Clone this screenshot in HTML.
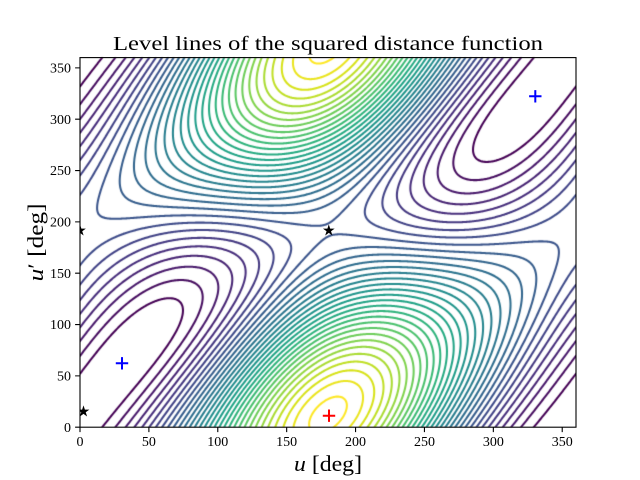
<!DOCTYPE html>
<html><head><meta charset="utf-8"><style>
html,body{margin:0;padding:0;background:#fff;}
#w{position:relative;width:640px;height:480px;overflow:hidden;background:#fff;}
canvas,svg{position:absolute;left:0;top:0;}
</style></head><body><div id="w">
<canvas id="c" width="640" height="480"></canvas>
<svg width="640" height="480" viewBox="0 0 640 480" xmlns="http://www.w3.org/2000/svg">
<defs><clipPath id="ax"><rect x="80" y="57.6" width="496" height="369.6"/></clipPath></defs>
<g clip-path="url(#ax)">
<g stroke="#0000ff" stroke-width="2" fill="none">
<path d="M115.8 363.3H128.2M122 357.1V369.5"/>
<path d="M529.1 96.3H541.5M535.3 90.1V102.5"/>
</g>
<path d="M322.8 415.7H335.2M329 409.5V421.9" stroke="#ff0000" stroke-width="2" fill="none"/>
<g fill="#000">
<polygon transform="translate(83.5,411.5) scale(1.1)" points="0,-5.6 1.258,-1.731 5.326,-1.73 2.035,0.661 3.292,4.531 0,2.14 -3.292,4.531 -2.035,0.661 -5.326,-1.73 -1.258,-1.731"/>
<polygon transform="translate(80,230.5) scale(1.1)" points="0,-5.6 1.258,-1.731 5.326,-1.73 2.035,0.661 3.292,4.531 0,2.14 -3.292,4.531 -2.035,0.661 -5.326,-1.73 -1.258,-1.731"/>
<polygon transform="translate(328.8,230.5) scale(1.1)" points="0,-5.6 1.258,-1.731 5.326,-1.73 2.035,0.661 3.292,4.531 0,2.14 -3.292,4.531 -2.035,0.661 -5.326,-1.73 -1.258,-1.731"/>
</g>
</g>
<rect x="80" y="57.6" width="496" height="369.6" fill="none" stroke="#000" stroke-width="1.1"/>
<g stroke="#000" stroke-width="1.1">
<path d="M80 427.2V432.1M148.89 427.2V432.1M217.78 427.2V432.1M286.67 427.2V432.1M355.56 427.2V432.1M424.44 427.2V432.1M493.33 427.2V432.1M562.22 427.2V432.1"/>
<path d="M75.1 427.2H80M75.1 375.87H80M75.1 324.53H80M75.1 273.2H80M75.1 221.87H80M75.1 170.53H80M75.1 119.2H80M75.1 67.87H80"/>
</g>
<g font-family="Liberation Serif, DejaVu Serif, serif" font-size="14" fill="#000" text-anchor="middle">
<text x="80" y="446">0</text>
<text x="148.89" y="446">50</text>
<text x="217.78" y="446">100</text>
<text x="286.67" y="446">150</text>
<text x="355.56" y="446">200</text>
<text x="424.44" y="446">250</text>
<text x="493.33" y="446">300</text>
<text x="562.22" y="446">350</text>
</g>
<g font-family="Liberation Serif, DejaVu Serif, serif" font-size="14" fill="#000" text-anchor="end">
<text x="71" y="431.8">0</text>
<text x="71" y="380.5">50</text>
<text x="71" y="329.1">100</text>
<text x="71" y="277.8">150</text>
<text x="71" y="226.5">200</text>
<text x="71" y="175.1">250</text>
<text x="71" y="123.8">300</text>
<text x="71" y="72.5">350</text>
</g>
<text x="328" y="50" font-family="Liberation Serif, DejaVu Serif, serif" font-size="20" text-anchor="middle" textLength="430" lengthAdjust="spacingAndGlyphs">Level lines of the squared distance function</text>
<text x="328" y="471" font-family="Liberation Serif, DejaVu Serif, serif" font-size="22" text-anchor="middle" textLength="68" lengthAdjust="spacingAndGlyphs"><tspan font-style="italic">u</tspan> [deg]</text>
<text transform="translate(43,242.4) rotate(-90)" x="0" y="0" font-family="Liberation Serif, DejaVu Serif, serif" font-size="22" text-anchor="middle" textLength="78" lengthAdjust="spacingAndGlyphs"><tspan font-style="italic">u</tspan>′ [deg]</text>
</svg></div>
<script>
(function(){
var cv=document.getElementById('c'),ctx=cv.getContext('2d');
var X0=80,X1=576,YB=427.2,YT=57.6,sx=(X1-X0)/360,sy=(YB-YT)/360,D=Math.PI/180;
var e=0.455,b=Math.sqrt(1-e*e);
var u0=30.5*D,v0=(62.2-192)*D;
var K=Math.sin(u0)*Math.cos(v0)/((Math.cos(u0)-e)*Math.sin(v0));
var bR=e*Math.sin(u0)*(1-e*Math.cos(u0))/(K*Math.sin(u0)*Math.cos(v0)-Math.cos(u0)*Math.sin(v0));
var R=bR/b,c=K*bR;
function f(u,w){var v=(w-192)*D;u=u*D;var t=1-e*Math.cos(u);return t*t+R*R+2*c*(Math.cos(u)-e)*Math.cos(v)+2*bR*Math.sin(u)*Math.sin(v);}
var N=480,h=360/N,M=N+1,G=new Float64Array(M*M),zmax=-1e9;
for(var i=0;i<M;i++)for(var j=0;j<M;j++){var z=f(i*h,j*h);G[i*M+j]=z;if(z>zmax)zmax=z;}
var L1=0.158,st=0.1116,lev=[];for(var L=L1;L<zmax;L+=st)lev.push(L);
var vir=[[68,1,84],[72,24,106],[71,45,123],[66,64,134],[59,82,139],[51,99,141],[44,114,142],[38,130,142],[33,145,140],[31,160,136],[40,174,128],[63,188,115],[94,201,98],[132,212,75],[173,220,48],[216,226,25],[253,231,37]];
function col(t){t=Math.max(0,Math.min(1,t))*16;var k=Math.min(15,Math.floor(t)),r=t-k,A=vir[k],B=vir[k+1];
return 'rgb('+Math.round(A[0]+(B[0]-A[0])*r)+','+Math.round(A[1]+(B[1]-A[1])*r)+','+Math.round(A[2]+(B[2]-A[2])*r)+')';}
var a,bb,cc,d,uu,ww,LL;
function ep(n){var t,x,y;
 if(n===0){t=(LL-a)/(bb-a);x=uu+t*h;y=ww;}
 else if(n===1){t=(LL-bb)/(cc-bb);x=uu+h;y=ww+t*h;}
 else if(n===2){t=(LL-d)/(cc-d);x=uu+t*h;y=ww+h;}
 else {t=(LL-a)/(d-a);x=uu;y=ww+t*h;}
 return [X0+x*sx,YB-y*sy];}
function seg(p,q){var P=ep(p),Q=ep(q);ctx.moveTo(P[0],P[1]);ctx.lineTo(Q[0],Q[1]);}
var T={1:[0,3],2:[0,1],3:[1,3],4:[1,2],6:[0,2],7:[2,3],8:[2,3],9:[0,2],11:[1,2],12:[1,3],13:[0,1],14:[0,3]};
ctx.save();ctx.beginPath();ctx.rect(X0,YT,X1-X0,YB-YT);ctx.clip();
ctx.lineWidth=2.05;ctx.lineCap='round';ctx.lineJoin='round';
for(var k=0;k<lev.length;k++){
 LL=lev[k];ctx.strokeStyle=col(lev.length>1?k/(lev.length-1):0);ctx.beginPath();
 for(var i=0;i<N;i++){for(var j=0;j<N;j++){
  a=G[i*M+j];bb=G[(i+1)*M+j];cc=G[(i+1)*M+j+1];d=G[i*M+j+1];
  var id=(a>LL?1:0)|(bb>LL?2:0)|(cc>LL?4:0)|(d>LL?8:0);
  if(id===0||id===15)continue;
  uu=i*h;ww=j*h;
  if(id===5||id===10){var ctr=(a+bb+cc+d)/4>LL;
   if((id===5)===ctr){seg(0,1);seg(2,3);}else{seg(0,3);seg(1,2);}
  }else{var s=T[id];seg(s[0],s[1]);}
 }}
 ctx.stroke();
}
ctx.restore();
})();
</script>
</body></html>
